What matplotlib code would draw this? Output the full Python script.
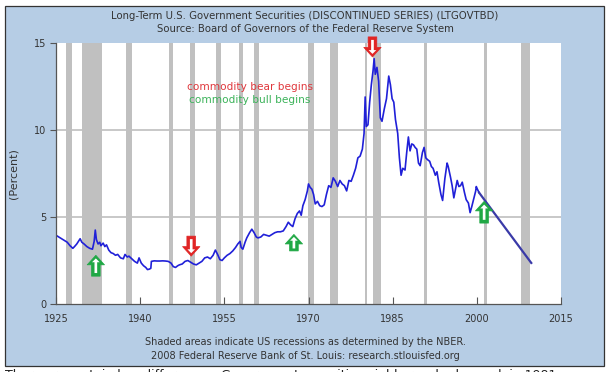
import numpy as np
import matplotlib
matplotlib.use('Agg')
import matplotlib.pyplot as plt
from matplotlib.patches import Rectangle, FancyArrowPatch

# monthly-ish readings of the long-term treasury yield (percent)
years = [1925.0,1925.5,1926.0,1926.5,1927.0,1927.5,1928.0,1928.3,1928.7,1929.0,1929.3,1929.6,
         1930.0,1930.5,1931.0,1931.5,1931.8,1932.0,1932.2,1932.5,1932.8,1933.0,1933.4,1933.7,
         1934.0,1934.4,1934.8,1935.2,1935.6,1936.0,1936.5,1937.0,1937.3,1937.7,1938.0,1938.5,
         1939.0,1939.5,1939.8,1940.2,1940.6,1941.0,1941.3,1941.6,1941.9,1942.0,1942.5,1943.0,
         1943.5,1944.0,1944.5,1945.0,1945.5,1945.9,1946.3,1946.7,1947.0,1947.5,1948.0,1948.5,
         1949.0,1949.5,1950.0,1950.5,1951.0,1951.5,1952.0,1952.5,1953.0,1953.4,1953.8,1954.2,
         1954.6,1955.0,1955.5,1956.0,1956.5,1957.0,1957.4,1957.8,1958.0,1958.3,1958.7,1959.0,
         1959.5,1959.9,1960.3,1960.7,1961.0,1961.5,1962.0,1962.5,1963.0,1963.5,1964.0,1964.5,
         1965.0,1965.5,1966.0,1966.4,1966.8,1967.2,1967.6,1968.0,1968.4,1968.7,1969.0,1969.4,
         1969.8,1970.0,1970.3,1970.6,1970.9,1971.2,1971.6,1972.0,1972.4,1972.8,1973.2,1973.6,
         1974.0,1974.4,1974.8,1975.2,1975.6,1976.0,1976.4,1976.8,1977.2,1977.6,1978.0,1978.4,
         1978.8,1979.2,1979.6,1979.9,1980.1,1980.3,1980.6,1980.9,1981.2,1981.5,1981.7,1981.9,
         1982.2,1982.5,1982.8,1983.1,1983.5,1983.9,1984.3,1984.6,1984.9,1985.2,1985.5,1985.9,
         1986.2,1986.5,1986.8,1987.2,1987.5,1987.8,1988.1,1988.4,1988.7,1989.0,1989.3,1989.6,
         1989.9,1990.3,1990.6,1990.9,1991.2,1991.6,1991.9,1992.2,1992.6,1992.9,1993.2,1993.6,
         1993.9,1994.3,1994.7,1994.9,1995.3,1995.6,1995.9,1996.2,1996.5,1996.8,1997.1,1997.4,
         1997.8,1998.1,1998.5,1998.8,1999.1,1999.5,1999.8,1999.9,2000.1,2000.4]
yields = [3.95,3.85,3.75,3.65,3.55,3.35,3.20,3.30,3.45,3.60,3.75,3.55,
          3.45,3.30,3.20,3.15,3.60,4.25,3.70,3.45,3.55,3.35,3.50,3.30,
          3.40,3.10,2.95,2.90,2.80,2.85,2.65,2.60,2.85,2.70,2.75,2.60,
          2.45,2.35,2.65,2.35,2.20,2.10,1.98,2.00,2.05,2.45,2.48,2.47,
          2.47,2.48,2.47,2.45,2.35,2.15,2.10,2.20,2.25,2.30,2.45,2.50,
          2.40,2.30,2.25,2.35,2.45,2.65,2.70,2.60,2.80,3.10,2.85,2.55,
          2.50,2.65,2.80,2.90,3.05,3.25,3.45,3.60,3.25,3.15,3.55,3.80,
          4.10,4.30,4.10,3.85,3.80,3.85,4.00,3.95,3.90,4.00,4.10,4.15,
          4.15,4.20,4.45,4.70,4.55,4.45,4.90,5.20,5.35,5.10,5.65,6.00,
          6.50,6.90,6.70,6.60,6.30,5.75,5.90,5.65,5.60,5.70,6.30,6.80,
          6.70,7.25,7.05,6.75,7.10,6.90,6.80,6.50,7.10,7.05,7.40,7.80,
          8.40,8.50,8.90,9.80,11.9,10.2,10.3,11.6,12.6,13.4,14.1,13.2,
          13.6,12.8,10.7,10.5,11.2,11.8,13.1,12.6,11.8,11.6,10.6,9.80,
          8.40,7.40,7.80,7.70,8.70,9.60,8.80,9.20,9.15,9.00,8.90,8.10,
          7.95,8.70,9.00,8.40,8.30,8.20,7.90,7.80,7.40,7.60,7.00,6.30,
          5.95,7.20,8.10,7.90,7.30,6.80,6.10,6.60,7.10,6.75,6.80,7.00,
          6.40,6.00,5.80,5.25,5.60,6.10,6.50,6.75,6.60,6.40]

# hand-drawn projection after the series ends
proj_years = [2000.4, 2009.7]
proj_vals = [6.40, 2.36]

# NBER recessions
rec_start = [1926.8,1929.6,1937.4,1945.1,1948.9,1953.5,1957.6,1960.3,1969.9,1973.9,1980.0,1981.5,1990.5,2001.2,2007.9]
rec_end   = [1927.9,1933.2,1938.5,1945.8,1949.8,1954.4,1958.3,1961.1,1970.9,1975.2,1980.5,1982.9,1991.2,2001.9,2009.5]

# arrows: (year, tail value, tip value)
red_arrows = [(1949.1, 3.9, 2.75), (1981.4, 15.35, 14.2)]
green_arrows = [(1932.1, 1.6, 2.8), (1967.4, 3.05, 4.0), (2001.3, 4.65, 5.9)]

xticks = [1925, 1940, 1955, 1970, 1985, 2000, 2015]
yticks = [0, 5, 10, 15]

W, H = 609, 372
fig = plt.figure(figsize=(W/100, H/100), dpi=100)
fig.patch.set_facecolor('white')
fig.patches.append(Rectangle((5/W, 1-366/H), 599/W, 360/H, transform=fig.transFigure,
                             facecolor='#b6cde5', edgecolor='#333333', linewidth=0.9, zorder=-5))

ax = fig.add_axes([56/W, 1-304/H, 505/W, 261/H])
ax.set_zorder(2)
ax.set_facecolor('white')
ax.set_xlim(1925, 2015)
ax.set_ylim(0, 15)

for s, e in zip(rec_start, rec_end):
    ax.axvspan(s, e, color='#c0c0c0', lw=0, zorder=1)
for v in [5, 10]:
    ax.axhline(v, color='#c8c8c8', lw=1.4, zorder=0.5)

ax.plot(years, yields, color='#2020d8', lw=1.2, zorder=3)
ax.plot(proj_years, proj_vals, color='#3a3aa8', lw=1.6, zorder=3)

def block_arrow(x, y0, y1, col):
    a = FancyArrowPatch((x, y0), (x, y1), arrowstyle='simple,head_length=0.55,head_width=1.0,tail_width=0.5',
                        mutation_scale=12.5, fc=col, ec=col, lw=0.5, shrinkA=0, shrinkB=0,
                        zorder=5, clip_on=False)
    ax.add_patch(a)
    d = (y1 - y0) * 0.15
    b = FancyArrowPatch((x, y0 + d), (x, y1 - d), arrowstyle='simple,head_length=0.5,head_width=1.0,tail_width=0.35',
                        mutation_scale=5.5, fc='white', ec='white', lw=0, shrinkA=0, shrinkB=0,
                        zorder=6, clip_on=False)
    ax.add_patch(b)

for x, y0, y1 in red_arrows:
    block_arrow(x, y0, y1, '#e02525')
for x, y0, y1 in green_arrows:
    block_arrow(x, y0, y1, '#20a845')

ax.text(1959.6, 12.5, 'commodity bear begins', color='#e0383d', fontsize=7.6, ha='center', va='center', zorder=6)
ax.text(1959.6, 11.7, 'commodity bull begins', color='#3cb35a', fontsize=7.6, ha='center', va='center', zorder=6)

for sp in ['top', 'right']:
    ax.spines[sp].set_visible(False)
for sp in ['left', 'bottom']:
    ax.spines[sp].set_color('#555555')
    ax.spines[sp].set_linewidth(0.9)
    ax.spines[sp].set_zorder(4)

ax.set_xticks(xticks)
ax.set_yticks(yticks)
ax.tick_params(axis='x', direction='in', length=5, colors='#555555', labelcolor='#333333', labelsize=7, pad=7)
ax.tick_params(axis='y', direction='out', length=4, colors='#555555', labelcolor='#333333', labelsize=7, pad=3)
ax.set_ylabel('(Percent)', fontsize=8, color='#333333', labelpad=11)

fig.text(305/W, 1-16/H, 'Long-Term U.S. Government Securities (DISCONTINUED SERIES) (LTGOVTBD)',
         ha='center', va='center', fontsize=7.3, color='#333333')
fig.text(305/W, 1-29/H, 'Source: Board of Governors of the Federal Reserve System',
         ha='center', va='center', fontsize=7.3, color='#333333')
fig.text(305/W, 1-342/H, 'Shaded areas indicate US recessions as determined by the NBER.',
         ha='center', va='center', fontsize=7, color='#333333')
fig.text(305/W, 1-356/H, '2008 Federal Reserve Bank of St. Louis: research.stlouisfed.org',
         ha='center', va='center', fontsize=7, color='#333333')
# partially cropped line of text under the chart
fig.text(5/W, 1-369/H, 'There are certain key differences. Government securities yields reached a peak in 1981',
         ha='left', va='top', fontsize=9, color='#222222')

fig.savefig('out.png', dpi=100)
